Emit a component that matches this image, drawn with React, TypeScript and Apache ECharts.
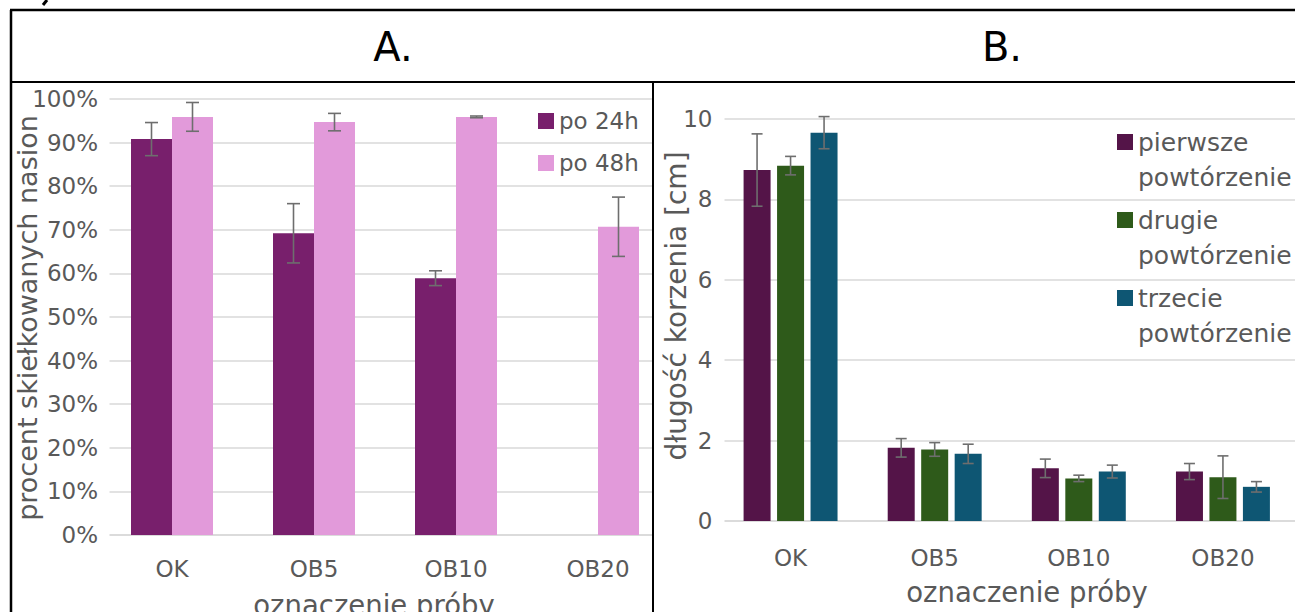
import React, { useEffect, useRef } from "react";
import * as echarts from "echarts";

const categories = ["OK", "OB5", "OB10", "OB20"];

const germ24 = [90.8, 69.2, 58.9, 0];
const germ24Err = [3.8, 6.8, 1.7, null];
const germ48 = [95.9, 94.7, 95.9, 70.7];
const germ48Err = [3.3, 2.0, 0.2, 6.8];

const root1 = [8.73, 1.82, 1.31, 1.23];
const root1Err = [0.9, 0.23, 0.23, 0.2];
const root2 = [8.84, 1.78, 1.06, 1.09];
const root2Err = [0.23, 0.17, 0.08, 0.53];
const root3 = [9.66, 1.67, 1.23, 0.85];
const root3Err = [0.4, 0.24, 0.16, 0.13];

const seriesNamesA = ["po 24h", "po 48h"];
const seriesNamesB = ["pierwsze powtórzenie", "drugie powtórzenie", "trzecie powtórzenie"];

const FONT = "DejaVu Sans";
const GREY = "#595959";
const GRID = "#d9d9d9";
const ERR = "#6e6e6e";

function errSeries(
  vals: number[],
  errs: (number | null)[],
  offset: number,
  cap: number,
  axis: number
) {
  const data = vals
    .map((v, i) => (errs[i] == null ? null : [i, v, errs[i] as number]))
    .filter((d) => d !== null);
  return {
    type: "custom",
    xAxisIndex: axis,
    yAxisIndex: axis,
    z: 5,
    silent: true,
    encode: { x: 0, y: 1 },
    data,
    renderItem: (params: any, api: any) => {
      const i = api.value(0);
      const v = api.value(1);
      const e = api.value(2);
      const top = api.coord([i, v + e]);
      const bot = api.coord([i, v - e]);
      const x = top[0] + offset;
      const style = { stroke: ERR, lineWidth: 1.6 };
      return {
        type: "group",
        children: [
          { type: "line", shape: { x1: x, y1: top[1], x2: x, y2: bot[1] }, style },
          { type: "line", shape: { x1: x - cap, y1: top[1], x2: x + cap, y2: top[1] }, style },
          { type: "line", shape: { x1: x - cap, y1: bot[1], x2: x + cap, y2: bot[1] }, style },
        ],
      };
    },
  };
}

export default function App() {
  const ref = useRef<HTMLDivElement>(null);

  useEffect(() => {
    if (!ref.current) return;
    const chart = echarts.init(ref.current, null, { renderer: "svg" });

    const axisLabelStyle = { color: GREY, fontFamily: FONT, fontSize: 23 };

    const option: any = {
      animation: false,
      backgroundColor: "#ffffff",
      grid: [
        { left: 101, top: 99, width: 568, height: 436 },
        { left: 718.5, top: 119, width: 604, height: 402 },
      ],
      xAxis: [
        {
          type: "category",
          gridIndex: 0,
          data: categories,
          axisTick: { show: false },
          axisLine: { lineStyle: { color: GRID, width: 1.6 } },
          axisLabel: { ...axisLabelStyle, margin: 22 },
        },
        {
          type: "category",
          gridIndex: 1,
          data: categories,
          axisTick: { show: false },
          axisLine: { lineStyle: { color: GRID, width: 1.6 } },
          axisLabel: { ...axisLabelStyle, margin: 25 },
        },
      ],
      yAxis: [
        {
          type: "value",
          gridIndex: 0,
          min: 0,
          max: 100,
          interval: 10,
          axisLine: { show: false },
          axisTick: { show: false },
          splitLine: { lineStyle: { color: GRID, width: 1.6 } },
          axisLabel: { ...axisLabelStyle, margin: 3, formatter: "{value}%" },
        },
        {
          type: "value",
          gridIndex: 1,
          min: 0,
          max: 10,
          interval: 2,
          axisLine: { show: false },
          axisTick: { show: false },
          splitLine: { lineStyle: { color: GRID, width: 1.6 } },
          axisLabel: { ...axisLabelStyle, margin: 6 },
        },
      ],
      legend: [
        {
          data: seriesNamesA,
          orient: "vertical",
          left: 533,
          top: 103,
          itemWidth: 16,
          itemHeight: 16,
          itemGap: 16,
          icon: "rect",
          textStyle: { color: GREY, fontFamily: FONT, fontSize: 23, lineHeight: 26 },
        },
        {
          data: seriesNamesB,
          orient: "vertical",
          left: 1112,
          top: 120,
          itemWidth: 16,
          itemHeight: 52,
          itemGap: 8,
          icon: "path://M0,0H16V16H0Z M0,52L0.01,52",
          formatter: (name: string) => name.replace(" ", "\n"),
          textStyle: { color: GREY, fontFamily: FONT, fontSize: 25, lineHeight: 35 },
        },
      ],
      series: [
        {
          type: "bar",
          name: seriesNamesA[0],
          xAxisIndex: 0,
          yAxisIndex: 0,
          data: germ24,
          barWidth: 41,
          barGap: "0%",
          itemStyle: { color: "#781F6C" },
        },
        {
          type: "bar",
          name: seriesNamesA[1],
          xAxisIndex: 0,
          yAxisIndex: 0,
          data: germ48,
          barWidth: 41,
          barGap: "0%",
          itemStyle: { color: "#E29ADA" },
        },
        {
          type: "bar",
          name: seriesNamesB[0],
          xAxisIndex: 1,
          yAxisIndex: 1,
          data: root1,
          barWidth: 27,
          barGap: "24%",
          itemStyle: { color: "#541448" },
        },
        {
          type: "bar",
          name: seriesNamesB[1],
          xAxisIndex: 1,
          yAxisIndex: 1,
          data: root2,
          barWidth: 27,
          barGap: "24%",
          itemStyle: { color: "#2E5A1A" },
        },
        {
          type: "bar",
          name: seriesNamesB[2],
          xAxisIndex: 1,
          yAxisIndex: 1,
          data: root3,
          barWidth: 27,
          barGap: "24%",
          itemStyle: { color: "#0E5673" },
        },
        errSeries(germ24, germ24Err, -20.5, 6.5, 0),
        errSeries(germ48, germ48Err, 20.5, 6.5, 0),
        errSeries(root1, root1Err, -33.5, 5.5, 1),
        errSeries(root2, root2Err, 0, 5.5, 1),
        errSeries(root3, root3Err, 33.5, 5.5, 1),
      ],
      graphic: [
        // mask grid-line starts / overflow
        { type: "rect", z: 50, shape: { x: 99.5, y: 90, width: 10, height: 450 }, style: { fill: "#fff" } },
        { type: "rect", z: 50, shape: { x: 654, y: 90, width: 17, height: 450 }, style: { fill: "#fff" } },
        { type: "rect", z: 50, shape: { x: 716, y: 110, width: 8.5, height: 415 }, style: { fill: "#fff" } },
        // frame
        { type: "line", z: 60, shape: { x1: 11, y1: 10, x2: 11, y2: 612 }, style: { stroke: "#000", lineWidth: 2.5 } },
        { type: "line", z: 60, shape: { x1: 10, y1: 10, x2: 1295, y2: 10 }, style: { stroke: "#000", lineWidth: 2.5 } },
        { type: "line", z: 60, shape: { x1: 10, y1: 82, x2: 1295, y2: 82 }, style: { stroke: "#000", lineWidth: 2 } },
        { type: "line", z: 60, shape: { x1: 653, y1: 82, x2: 653, y2: 612 }, style: { stroke: "#000", lineWidth: 2 } },
        { type: "line", z: 60, shape: { x1: 47, y1: 0, x2: 43, y2: 5 }, style: { stroke: "#000", lineWidth: 3 } },
        // titles
        {
          type: "text", z: 60, x: 393, y: 47,
          style: { text: "A.", fill: "#000", font: `40px '${FONT}'`, textAlign: "center", textVerticalAlign: "middle" },
        },
        {
          type: "text", z: 60, x: 1002, y: 47,
          style: { text: "B.", fill: "#000", font: `40px '${FONT}'`, textAlign: "center", textVerticalAlign: "middle" },
        },
        // axis titles
        {
          type: "text", z: 60, x: 27, y: 318, rotation: Math.PI / 2,
          style: { text: "procent skiełkowanych nasion", fill: GREY, font: `27px '${FONT}'`, textAlign: "center", textVerticalAlign: "middle" },
        },
        {
          type: "text", z: 60, x: 676, y: 306, rotation: Math.PI / 2,
          style: { text: "długość korzenia [cm]", fill: GREY, font: `28px '${FONT}'`, textAlign: "center", textVerticalAlign: "middle" },
        },
        {
          type: "text", z: 60, x: 374, y: 605,
          style: { text: "oznaczenie próby", fill: GREY, font: `27.5px '${FONT}'`, textAlign: "center", textVerticalAlign: "middle" },
        },
        {
          type: "text", z: 60, x: 1027, y: 592,
          style: { text: "oznaczenie próby", fill: GREY, font: `27.5px '${FONT}'`, textAlign: "center", textVerticalAlign: "middle" },
        },
      ],
    };

    chart.setOption(option);
    return () => chart.dispose();
  }, []);

  return (
    <div
      ref={ref}
      style={{ position: "absolute", left: 0, top: 0, width: 1295, height: 612, background: "#fff" }}
    />
  );
}
